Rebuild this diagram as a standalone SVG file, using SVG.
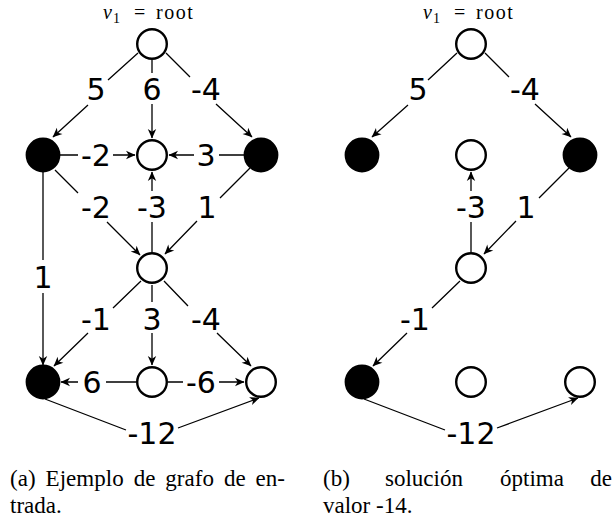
<svg xmlns="http://www.w3.org/2000/svg" width="614" height="525" viewBox="0 0 614 525">
<style>
.n{stroke:#000;stroke-width:2.4;fill:#fff}
.b{stroke:#000;stroke-width:2.4;fill:#000}
.e{stroke:#000;stroke-width:1.3;fill:none;marker-end:url(#arr)}
.l{font-family:"DejaVu Sans",sans-serif;font-size:30px;text-anchor:middle;fill:#000}
.cap{font-family:"Liberation Serif",serif;font-size:23px;fill:#000}
.m{font-family:"Liberation Serif",serif;font-size:20px;fill:#000}
</style>
<defs>
<marker id="arr" viewBox="-10 -5 11 10" refX="0" refY="0" markerWidth="11" markerHeight="10" markerUnits="userSpaceOnUse" orient="auto">
<path d="M0.5,0 L-9,-4.2 L-6.3,0 L-9,4.2 Z" fill="#000"/>
</marker>
</defs>

<!-- Left graph (a) -->
<g id="rootLabelA">
<text class="m" y="19"><tspan x="103" font-style="italic">v</tspan><tspan x="113" y="23" font-size="14">1</tspan><tspan x="134" y="19">=</tspan><tspan x="156" letter-spacing="1.5">root</tspan></text>
</g>
<g id="connectorsA">
<g id="a-e1"><path class="e" d="M138,53 L108,80 M88,105 L53,137"/><text class="l" x="96" y="100">5</text></g>
<g id="a-e2"><path class="e" d="M152,60 L152,73 M152,104 L152,138"/><text class="l" x="152" y="100">6</text></g>
<g id="a-e3"><path class="e" d="M166,53 L190,77 M216,104 L252,137"/><text class="l" x="206" y="100">-4</text></g>
<g id="a-e4"><path class="e" d="M60,155 L78,155 M113,155 L135,155"/><text class="l" x="96" y="166">-2</text></g>
<g id="a-e5"><path class="e" d="M244,155 L219,155 M194,155 L169,155"/><text class="l" x="206" y="166">3</text></g>
<g id="a-e6"><path class="e" d="M55,170 L78,193 M107,222 L140,255"/><text class="l" x="96" y="218">-2</text></g>
<g id="a-e7"><path class="e" d="M152,252 L152,222 M152,191 L152,172"/><text class="l" x="152" y="218">-3</text></g>
<g id="a-e8"><path class="e" d="M250,168 L220,198 M197,221 L165,254"/><text class="l" x="207" y="218">1</text></g>
<g id="a-e9"><path class="e" d="M43,172 L43,260 M43,293 L43,365"/><text class="l" x="43" y="288">1</text></g>
<g id="a-e10"><path class="e" d="M141,281 L113,308 M88,333 L54,366"/><text class="l" x="96" y="330">-1</text></g>
<g id="a-e11"><path class="e" d="M152,285 L152,302 M152,333 L152,365"/><text class="l" x="152" y="330">3</text></g>
<g id="a-e12"><path class="e" d="M164,281 L188,306 M217,333 L251,366"/><text class="l" x="206" y="330">-4</text></g>
<g id="a-e13"><path class="e" d="M136,382 L106,382 M78,382 L61,382"/><text class="l" x="92" y="393">6</text></g>
<g id="a-e14"><path class="e" d="M168,382 L183,382 M219,382 L244,382"/><text class="l" x="201" y="393">-6</text></g>
<g id="a-e15"><path class="e" d="M45,399 L126,430 M178,428 L259,398"/><text class="l" x="152" y="444">-12</text></g>
</g>
<g id="a-v1"><circle class="n" cx="152" cy="44" r="14.8"/></g>
<g id="a-v2"><circle class="b" cx="43" cy="155" r="16.2"/></g>
<g id="a-v3"><circle class="n" cx="152" cy="155" r="14.8"/></g>
<g id="a-v4"><circle class="b" cx="261" cy="155" r="16.2"/></g>
<g id="a-v5"><circle class="n" cx="152" cy="268" r="14.8"/></g>
<g id="a-v6"><circle class="b" cx="43" cy="382" r="16.2"/></g>
<g id="a-v7"><circle class="n" cx="152" cy="382" r="14.8"/></g>
<g id="a-v8"><circle class="n" cx="261" cy="382" r="14.8"/></g>

<!-- Right graph (b) -->
<g id="rootLabelB">
<text class="m" y="19"><tspan x="423" font-style="italic">v</tspan><tspan x="433" y="23" font-size="14">1</tspan><tspan x="454" y="19">=</tspan><tspan x="476" letter-spacing="1.5">root</tspan></text>
</g>
<g id="connectorsB">
<g id="b-e1"><path class="e" d="M457,53 L428,80 M408,105 L372,137"/><text class="l" x="418" y="100">5</text></g>
<g id="b-e3"><path class="e" d="M485,53 L509,77 M535,104 L571,137"/><text class="l" x="525" y="100">-4</text></g>
<g id="b-e7"><path class="e" d="M471,252 L471,222 M471,191 L471,172"/><text class="l" x="471" y="218">-3</text></g>
<g id="b-e8"><path class="e" d="M569,168 L539,198 M516,221 L484,254"/><text class="l" x="526" y="218">1</text></g>
<g id="b-e10"><path class="e" d="M460,281 L432,308 M407,333 L373,366"/><text class="l" x="415" y="330">-1</text></g>
<g id="b-e15"><path class="e" d="M364,399 L445,430 M497,428 L578,398"/><text class="l" x="471" y="444">-12</text></g>
</g>
<g id="b-v1"><circle class="n" cx="471" cy="44" r="14.8"/></g>
<g id="b-v2"><circle class="b" cx="362" cy="155" r="16.2"/></g>
<g id="b-v3"><circle class="n" cx="471" cy="155" r="14.8"/></g>
<g id="b-v4"><circle class="b" cx="580" cy="155" r="16.2"/></g>
<g id="b-v5"><circle class="n" cx="471" cy="268" r="14.8"/></g>
<g id="b-v6"><circle class="b" cx="362" cy="382" r="16.2"/></g>
<g id="b-v7"><circle class="n" cx="471" cy="382" r="14.8"/></g>
<g id="b-v8"><circle class="n" cx="580" cy="382" r="14.8"/></g>

<!-- Captions -->
<g id="captions">
<text class="cap" x="10" y="486" textLength="275" lengthAdjust="spacing" word-spacing="4">(a) Ejemplo de grafo de en-</text>
<text class="cap" x="10" y="513">trada.</text>
<text class="cap" y="486"><tspan x="323">(b)</tspan><tspan x="385">solución</tspan><tspan x="500">óptima</tspan></text>
<text class="cap" x="612" y="486" text-anchor="end">de</text>
<text class="cap" x="323" y="513">valor -14.</text>
</g>
</svg>
